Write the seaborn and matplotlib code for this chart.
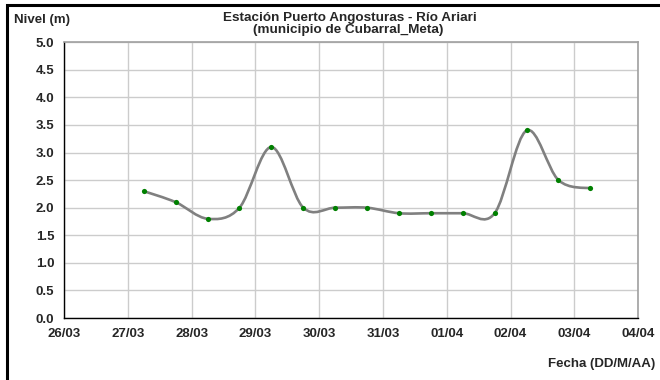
import matplotlib
matplotlib.use("Agg")
import matplotlib.pyplot as plt
import matplotlib.dates as mdates
from matplotlib.path import Path
from matplotlib.patches import PathPatch, Rectangle
import numpy as np
import pandas as pd
import seaborn as sns

# lecturas cada 12 h (06:00 y 18:00)
fechas = ["2024-03-27 06:00", "2024-03-27 18:00", "2024-03-28 06:00", "2024-03-28 18:00",
          "2024-03-29 06:00", "2024-03-29 18:00", "2024-03-30 06:00", "2024-03-30 18:00",
          "2024-03-31 06:00", "2024-03-31 18:00", "2024-04-01 06:00", "2024-04-01 18:00",
          "2024-04-02 06:00", "2024-04-02 18:00", "2024-04-03 06:00"]
nivel = [2.3, 2.1, 1.8, 2.0, 3.1, 2.0, 2.0, 2.0, 1.9, 1.9, 1.9, 1.9, 3.4, 2.5, 2.35]
x_ini, x_fin = "2024-03-26", "2024-04-04"
y_ticks = [0.0, 0.5, 1.0, 1.5, 2.0, 2.5, 3.0, 3.5, 4.0, 4.5, 5.0]

df = pd.DataFrame({"fecha": pd.to_datetime(fechas), "nivel": nivel})

sns.set_style("white")
plt.rcParams['font.family'] = ['Liberation Sans', 'DejaVu Sans']

fig = plt.figure(figsize=(6.6, 3.8), dpi=100)
ax = fig.add_axes([0.097, 0.163, 0.870, 0.726])

# curva suavizada tipo Excel (bezier catmull-rom)
xs = mdates.date2num(df["fecha"].dt.to_pydatetime())
ys = np.array(nivel)
verts = [(xs[0], ys[0])]
codes = [Path.MOVETO]
n = len(xs)
for i in range(n - 1):
    p0 = np.array([xs[max(i - 1, 0)], ys[max(i - 1, 0)]])
    p1 = np.array([xs[i], ys[i]])
    p2 = np.array([xs[i + 1], ys[i + 1]])
    p3 = np.array([xs[min(i + 2, n - 1)], ys[min(i + 2, n - 1)]])
    c1 = p1 + (p2 - p0) / 6
    c2 = p2 - (p3 - p1) / 6
    verts += [tuple(c1), tuple(c2), tuple(p2)]
    codes += [Path.CURVE4] * 3
ax.add_patch(PathPatch(Path(verts, codes), facecolor="none", edgecolor="#808080", lw=1.9, zorder=3))

sns.scatterplot(ax=ax, data=df, x="fecha", y="nivel", color="#008000", s=14, linewidth=0, zorder=4)

ax.set_xlim(pd.Timestamp(x_ini), pd.Timestamp(x_fin))
ax.set_ylim(0, 5)
ax.set_yticks(y_ticks)
ax.set_yticklabels([f"{v:.1f}" for v in y_ticks])
ax.xaxis.set_major_locator(mdates.DayLocator())
ax.xaxis.set_major_formatter(mdates.DateFormatter("%d/%m"))
ax.grid(True, color="#cccccc", lw=1)
ax.set_axisbelow(True)
for s in ["top", "right"]:
    ax.spines[s].set_color("#a0a0a0")
    ax.spines[s].set_linewidth(1.2)
for s in ["left", "bottom"]:
    ax.spines[s].set_color("black")
    ax.spines[s].set_linewidth(1)
ax.tick_params(direction="out", length=4, width=1, color="black", labelsize=9.5, pad=3)
for lab in ax.get_xticklabels() + ax.get_yticklabels():
    lab.set_fontweight("bold")
ax.set_xlabel("")
ax.set_ylabel("")

fig.text(0.530, 1 - 18 / 380, "Estación Puerto Angosturas - Río Ariari",
         ha="center", va="center", fontsize=9.7, fontweight="bold")
fig.text(0.528, 1 - 30 / 380, "(municipio de Cubarral_Meta)",
         ha="center", va="center", fontsize=9.7, fontweight="bold")
fig.text(0.021, 1 - 20 / 380, "Nivel (m)", ha="left", va="center", fontsize=9.5, fontweight="bold")
fig.text(0.993, 1 - 364 / 380, "Fecha (DD/M/AA)", ha="right", va="center", fontsize=9.5, fontweight="bold")

# marco del grafico (solo izquierda y arriba visibles)
fig.patches.append(Rectangle((0.011, -0.1), 1.2, 1.087, transform=fig.transFigure,
                             fill=False, edgecolor="black", lw=2.2))

fig.savefig("out.png", dpi=100)
